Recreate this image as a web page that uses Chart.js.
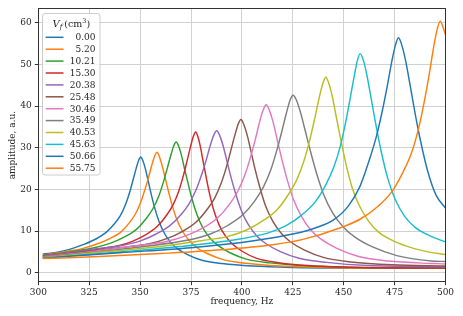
<!DOCTYPE html>
<html>
<head>
<meta charset="utf-8">
<script src="https://cdn.jsdelivr.net/npm/chart.js@4.4.1/dist/chart.umd.min.js"></script>
<style>
html,body{margin:0;padding:0;background:#fff;}
canvas{display:block;}
</style>
</head>
<body>
<canvas id="c" width="463" height="316"></canvas>
<script>
// ---- data ----
const volumes = ['0.00','5.20','10.21','15.30','20.38','25.48','30.46','35.49','40.53','45.63','50.66','55.75'];
const colors = ['#1f77b4','#ff7f0e','#2ca02c','#d62728','#9467bd','#8c564b','#e377c2','#7f7f7f','#bcbd22','#17becf','#1f77b4','#ff7f0e'];
const xTicks = [300,325,350,375,400,425,450,475,500];
const yTicks = [0,10,20,30,40,50,60];

const fA = [302.5,310,315.3,322.3,328.3,333.3,337.3,340.3,342.8,344.8,346.5,348.1,349.3,350.3,351.3,352.5,353.9,355.3,357.1,359.3,361.8,364.8,368.3,373.3,380.3,390.3,405.3,425.3,450.3,500];
const aA = [4.5,5.0,5.6,6.8,8.1,9.7,11.7,13.7,16.3,19.2,22.2,25.1,27.0,27.8,27.0,25.1,22.2,19.2,15.7,12.3,9.6,7.4,5.8,4.35,3.0,2.2,1.6,1.27,1.13,1.05];

const fB = [302.5,310,315,321.5,328.8,335.1,340.4,344.6,347.7,350.3,352.4,354.2,355.9,357.2,358.2,359.3,360.6,362.2,363.7,365.7,368.1,370.9,374.2,378.0,383.5,391.2,402.2,418.7,440.7,468.2,500];
const aB = [4.3,4.8,5.2,5.8,6.9,8.2,9.7,11.9,14.1,16.9,20.0,23.0,26.1,28.1,28.9,28.1,26.1,23.0,20.0,16.3,12.7,9.9,7.7,6.0,4.5,3.1,2.26,1.6,1.28,1.14,1.08];

const fC = [302.5,310,318,327.5,335.5,342.4,348.2,352.8,356.2,359.1,361.4,363.3,365.2,366.55,367.7,368.85,370.2,371.8,373.45,375.5,378.05,380.9,384.4,388.4,394.15,402.2,413.7,430.95,453.95,482.7,500];
const aC = [4.2,4.6,5.2,6.0,7.1,8.6,10.4,12.9,15.3,18.3,21.7,25.0,28.4,30.5,31.4,30.5,28.4,25.0,21.7,17.7,13.8,10.7,8.3,6.5,4.8,3.28,2.37,1.67,1.3,1.15,1.12];

const fD = [302.5,315,325,332,338.8,346.5,353.1,358.6,363.0,366.3,369.05,371.25,373.1,374.9,376.2,377.3,378.3,379.5,380.9,382.3,384.1,386.3,388.8,391.8,395.3,400.3,407.3,417.3,432.3,452.3,477.3,500];
const aD = [4.1,4.8,5.4,5.9,6.4,7.6,9.2,11.2,13.8,16.4,19.7,23.3,26.9,30.5,32.8,33.8,32.8,30.5,26.9,23.3,19.0,14.8,11.5,8.9,6.9,5.1,3.46,2.48,1.72,1.33,1.16,1.14];

const fE = [302.5,315,328,340.35,349.8,357.9,364.65,370.05,374.1,377.5,380.2,382.5,384.6,386.25,387.6,388.95,390.6,392.5,394.35,396.8,399.75,403.1,407.2,411.9,418.6,428.1,441.6,461.85,500];
const aE = [4.0,4.8,5.7,6.5,7.6,9.3,11.3,13.9,16.6,19.9,23.5,27.1,30.8,33.1,34.1,33.1,30.8,27.1,23.5,19.2,14.9,11.6,8.9,6.96,5.14,3.48,2.49,1.73,1.45];

const fF = [302.5,320,338,354.0,363.1,370.9,377.4,382.6,386.5,389.75,392.35,394.55,396.65,398.2,399.5,400.85,402.5,404.4,406.25,408.7,411.65,415.0,419.1,423.8,430.5,440.0,453.5,473.75,500];
const aF = [3.9,4.9,5.9,6.9,8.2,9.95,12.1,15.0,17.8,21.4,25.3,29.3,33.2,35.7,36.8,35.7,33.2,29.3,25.3,20.7,16.0,12.5,9.6,7.44,5.5,3.7,2.6,1.9,1.65];

const fG = [302.5,325,345,362.9,372.7,381.1,388.1,393.7,397.9,401.4,404.2,406.6,408.8,410.5,411.9,413.4,415.2,417.3,419.4,422.1,425.4,429.15,433.65,438.9,446.4,456.9,471.9,494.4,500];
const aG = [3.8,5.0,6.3,7.5,8.9,10.8,13.2,16.3,19.5,23.4,27.7,32.0,36.4,39.1,40.3,39.1,36.4,32.0,27.7,22.6,17.5,13.6,10.4,8.07,5.9,3.95,2.8,2.2,2.1];

const fH = [302.5,325,350,374.35,384.5,393.2,400.45,406.25,410.6,414.2,417.1,419.6,421.9,423.65,425.1,426.8,428.84,431.2,433.6,436.66,440.4,444.65,449.75,455.7,464.2,476.1,493.1,500];
const aH = [3.7,4.8,6.2,7.9,9.3,11.4,13.9,17.2,20.6,24.7,29.3,33.9,38.4,41.4,42.6,41.4,38.4,33.9,29.3,23.9,18.5,14.3,11.0,8.5,6.2,4.12,2.83,2.7];

const fI = [302.5,330,360,380,392.2,402.0,410.4,417.4,423.0,427.2,430.7,433.5,435.9,438.1,439.8,441.2,442.65,444.4,446.4,448.45,451.06,454.25,457.9,462.2,467.3,474.6,484.7,492,500];
const aI = [3.6,4.9,6.3,7.7,8.6,10.2,12.5,15.2,18.9,22.6,27.2,32.2,37.3,42.3,45.5,46.9,45.5,42.3,37.3,32.2,26.2,20.3,15.9,12.4,9.7,7.6,5.8,4.95,4.4];

const fJ = [302.5,340,370,395,412.6,421.7,429.5,436.0,441.2,445.1,448.35,450.95,453.16,455.24,456.8,458.1,459.6,461.4,463.5,465.6,468.3,471.6,475.35,479.85,485.1,492.6,500];
const aJ = [3.5,5.0,6.3,7.8,9.5,11.3,13.9,17.0,21.1,25.3,30.4,36.1,41.8,47.4,51.1,52.6,51.1,47.4,41.8,36.1,29.4,22.7,17.5,13.6,10.9,8.8,7.4];

const fK = [302.5,340,375,405,426.15,436.3,445.0,452.25,458.05,462.4,466.0,468.9,471.4,473.7,475.45,476.9,478.5,480.4,482.7,484.9,487.8,491.3,495.3,500];
const aK = [3.5,4.8,6.0,7.6,9.4,10.8,12.7,16.0,20.8,26.8,32.6,38.7,44.8,50.9,54.7,56.4,54.7,50.9,44.8,38.7,31.5,24.3,18.7,15.5];

const fL = [302.5,330,360,390,415,430,448.4,458.2,466.6,473.6,479.2,483.4,486.9,489.7,492.1,494.3,496.0,497.4,499.0,500];
const aL = [3.4,3.9,4.6,5.5,6.7,8.0,10.8,12.9,15.85,19.4,24.2,28.9,34.9,41.4,47.9,54.5,58.6,60.4,58.6,57.2];

const freqs = [fA,fB,fC,fD,fE,fF,fG,fH,fI,fJ,fK,fL];
const amps  = [aA,aB,aC,aD,aE,aF,aG,aH,aI,aJ,aK,aL];

// ---- layout constants ----
const FONT = '"DejaVu Serif", "Liberation Serif", serif';
const TXT = '#262626';
const N = volumes.length;

const datasets = volumes.map((v, i) => ({
  label: v,
  data: freqs[i].map((x, k) => ({x: x, y: amps[i][k]})),
  borderColor: colors[i],
  backgroundColor: colors[i],
  borderWidth: 1.45,
  pointRadius: 0,
  fill: false,
  cubicInterpolationMode: 'monotone',
  order: N - i
}));

const decorPlugin = {
  id: 'decor',
  afterDatasetsDraw(chart) {
    const ctx = chart.ctx;
    const ca = chart.chartArea;
    ctx.save();
    // frame
    ctx.strokeStyle = '#333333';
    ctx.lineWidth = 1;
    ctx.strokeRect(Math.round(ca.left) + 0.5, Math.round(ca.top) + 0.5,
                   Math.round(ca.right - ca.left), Math.round(ca.bottom - ca.top));
    // axis labels
    ctx.fillStyle = TXT;
    ctx.font = '9px ' + FONT;
    ctx.textAlign = 'center';
    ctx.textBaseline = 'middle';
    ctx.fillText('frequency, Hz', (ca.left + ca.right) / 2, 302);
    ctx.save();
    ctx.translate(13, (ca.top + ca.bottom) / 2);
    ctx.rotate(-Math.PI / 2);
    ctx.fillText('amplitude, a.u.', 0, 0);
    ctx.restore();

    // legend box
    const lx = 42.5, ly = 13.5, lw = 57.5, lh = 161.5;
    ctx.beginPath();
    if (ctx.roundRect) ctx.roundRect(lx, ly, lw, lh, 2.5); else ctx.rect(lx, ly, lw, lh);
    ctx.fillStyle = 'rgba(255,255,255,0.8)';
    ctx.fill();
    ctx.strokeStyle = '#cccccc';
    ctx.lineWidth = 1;
    ctx.stroke();

    // legend title: V_f (cm^3)
    ctx.fillStyle = TXT;
    ctx.textAlign = 'left';
    ctx.textBaseline = 'alphabetic';
    const base = 26.5;
    const parts = [
      {t: 'V', f: 'italic 10px ' + FONT, dy: 0},
      {t: 'f', f: 'italic 7px ' + FONT, dy: 2},
      {t: '\u2009(cm', f: '9.5px ' + FONT, dy: 0},
      {t: '3', f: '6.5px ' + FONT, dy: -4},
      {t: ')', f: '9.5px ' + FONT, dy: 0}
    ];
    let total = 0;
    parts.forEach(p => { ctx.font = p.f; p.w = ctx.measureText(p.t).width; total += p.w; });
    let tx = 71.3 - total / 2;
    parts.forEach(p => { ctx.font = p.f; ctx.fillText(p.t, tx, base + p.dy); tx += p.w; });

    // legend entries
    ctx.font = '9px ' + FONT;
    ctx.textAlign = 'right';
    ctx.textBaseline = 'middle';
    chart.data.datasets.forEach((ds, i) => {
      const y = 37.3 + i * 11.9;
      ctx.strokeStyle = ds.borderColor;
      ctx.lineWidth = 1.5;
      ctx.beginPath();
      ctx.moveTo(45.7, y);
      ctx.lineTo(63.5, y);
      ctx.stroke();
      ctx.fillStyle = TXT;
      ctx.fillText(ds.label, 95.5, y + 0.5);
    });
    ctx.restore();
  }
};

new Chart(document.getElementById('c'), {
  type: 'line',
  data: { datasets: datasets },
  options: {
    responsive: false,
    animation: false,
    devicePixelRatio: 1,
    layout: { padding: { left: 0, top: 8.3, right: 17.5, bottom: 0 } },
    plugins: { legend: { display: false }, tooltip: { enabled: false }, title: { display: false } },
    elements: { line: { borderJoinStyle: 'round', borderCapStyle: 'round' } },
    scales: {
      x: {
        type: 'linear',
        min: 300, max: 500,
        afterFit(scale) { scale.height = 34.3; },
        afterBuildTicks(scale) { scale.ticks = xTicks.map(v => ({value: v})); },
        border: { display: false },
        grid: { color: '#d0d0d0', lineWidth: 1, drawTicks: true, tickLength: 3.5, tickColor: '#333333', tickWidth: 1 },
        ticks: { color: TXT, font: { family: FONT, size: 9 }, padding: 2, maxRotation: 0, autoSkip: false,
                 callback: v => String(v) }
      },
      y: {
        type: 'linear',
        min: -2.15, max: 63.45,
        afterFit(scale) { scale.width = 38.3; },
        afterBuildTicks(scale) { scale.ticks = yTicks.map(v => ({value: v})); },
        border: { display: false },
        grid: { color: '#d0d0d0', lineWidth: 1, drawTicks: true, tickLength: 3.5, tickColor: '#333333', tickWidth: 1 },
        ticks: { color: TXT, font: { family: FONT, size: 9 }, padding: 3, autoSkip: false,
                 callback: v => String(v) }
      }
    }
  },
  plugins: [decorPlugin]
});
</script>
</body>
</html>
